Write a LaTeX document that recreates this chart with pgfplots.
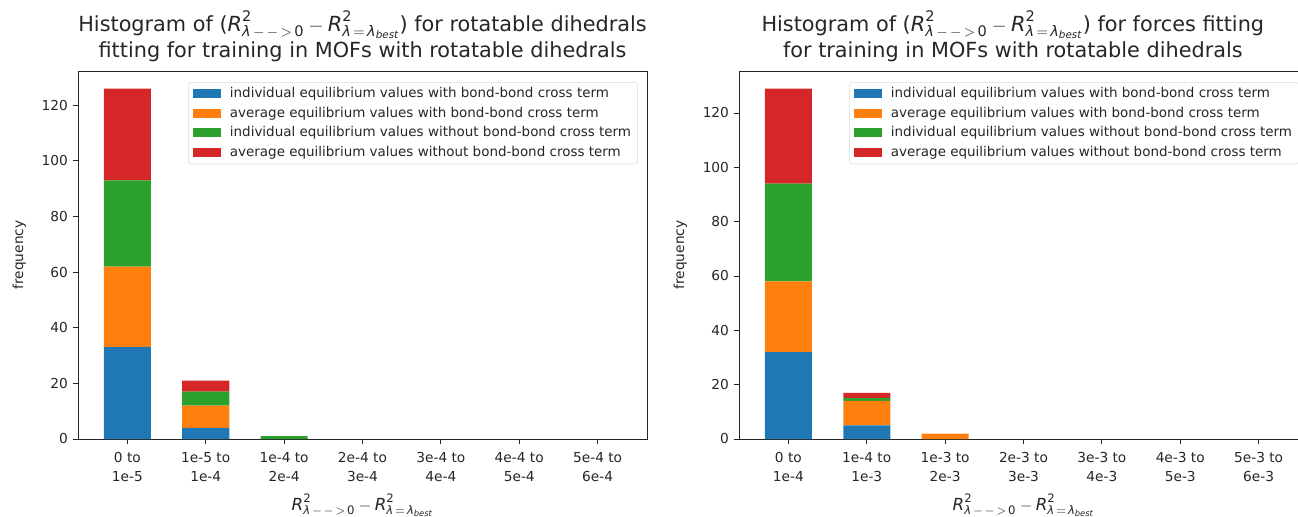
\documentclass[border=0pt]{standalone}
\usepackage{amsmath}
\usepackage{pgfplots}
\pgfplotsset{compat=1.18}
\usepackage{fontspec}
\setmainfont{DejaVu Sans}
\definecolor{tabblue}{HTML}{1F77B4}
\definecolor{taborange}{HTML}{FF7F0E}
\definecolor{tabgreen}{HTML}{2CA02C}
\definecolor{tabred}{HTML}{D62728}
\definecolor{spine}{HTML}{262626}
\newcommand{\Rexpr}{$\textit{R}^{\text{2}}_{\textit{λ}\,{-}\,{-}\,{>}\,\text{0}}-\textit{R}^{\text{2}}_{\textit{λ}\,=\,\textit{λ}_{\textit{best}}}$}

\pgfplotsset{mystyle/.style={
  scale only axis, width=426.75pt, height=276pt,
  ybar stacked, bar width=0.6,
  xmin=-0.63, xmax=6.63, ymin=0,
  xtick={0,...,6},
  ytick={0,20,...,120},
  tick align=outside, xtick pos=bottom, ytick pos=left,
  major tick length=4pt,
  axis line style={line width=0.7pt, color=spine},
  tick style={line width=0.7pt, color=spine},
  tick label style={font=\fontsize{10.3}{14.5}\selectfont, color=spine},
  xticklabel style={align=center, yshift=-2.5pt},
  /pgf/number format/assume math mode=true,
  ylabel={frequency}, xlabel={\Rexpr},
  label style={font=\fontsize{10.3}{12}\selectfont, color=spine},
  xlabel style={font=\fontsize{12.5}{14}\selectfont, yshift=-2pt},
  ylabel style={yshift=5pt},
  title style={align=center, font=\fontsize{15.6}{19.5}\selectfont, color=spine, yshift=-2.5pt},
  legend style={at={(0.984,0.97)}, anchor=north east, draw=black!15, rounded corners=2pt,
     font=\fontsize{10.1}{12}\selectfont, row sep=1.5pt, column sep=5pt, text=spine},
  legend cell align=left,
  legend image code/.code={\fill[##1, sharp corners] (2pt,-3.4pt) rectangle (23pt,3.4pt);},
  every axis plot/.append style={draw=none},
}}

\begin{document}
\begin{tikzpicture}
\begin{axis}[mystyle, at={(58.5pt,58.5pt)}, anchor=south west, ymax=132.3,
  title={Histogram of (\Rexpr) for rotatable dihedrals\\fitting for training in MOFs with rotatable dihedrals},
  xticklabels={{0 to\\1e-5},{1e-5 to\\1e-4},{1e-4 to\\2e-4},{2e-4 to\\3e-4},{3e-4 to\\4e-4},{4e-4 to\\5e-4},{5e-4 to\\6e-4}}]
\addplot[fill=tabblue] coordinates {(0,33) (1,4) (2,0) (3,0) (4,0) (5,0) (6,0)};
\addplot[fill=taborange] coordinates {(0,29) (1,8) (2,0) (3,0) (4,0) (5,0) (6,0)};
\addplot[fill=tabgreen] coordinates {(0,31) (1,5) (2,1) (3,0) (4,0) (5,0) (6,0)};
\addplot[fill=tabred] coordinates {(0,33) (1,4) (2,0) (3,0) (4,0) (5,0) (6,0)};
\legend{individual equilibrium values with bond-bond cross term,
average equilibrium values with bond-bond cross term,
individual equilibrium values without bond-bond cross term,
average equilibrium values without bond-bond cross term}
\end{axis}
\begin{axis}[mystyle, at={(554.25pt,58.5pt)}, anchor=south west, ymax=135.45,
  title style={xshift=-8pt},
  title={Histogram of (\Rexpr) for forces fitting\\for training in MOFs with rotatable dihedrals},
  xticklabels={{0 to\\1e-4},{1e-4 to\\1e-3},{1e-3 to\\2e-3},{2e-3 to\\3e-3},{3e-3 to\\4e-3},{4e-3 to\\5e-3},{5e-3 to\\6e-3}}]
\addplot[fill=tabblue] coordinates {(0,32) (1,5) (2,0) (3,0) (4,0) (5,0) (6,0)};
\addplot[fill=taborange] coordinates {(0,26) (1,9) (2,2) (3,0) (4,0) (5,0) (6,0)};
\addplot[fill=tabgreen] coordinates {(0,36) (1,1) (2,0) (3,0) (4,0) (5,0) (6,0)};
\addplot[fill=tabred] coordinates {(0,35) (1,2) (2,0) (3,0) (4,0) (5,0) (6,0)};
\legend{individual equilibrium values with bond-bond cross term,
average equilibrium values with bond-bond cross term,
individual equilibrium values without bond-bond cross term,
average equilibrium values without bond-bond cross term}
\end{axis}
\pgfresetboundingbox
\useasboundingbox (0,0) rectangle (973.5pt,387.75pt);
\end{tikzpicture}
\end{document}
